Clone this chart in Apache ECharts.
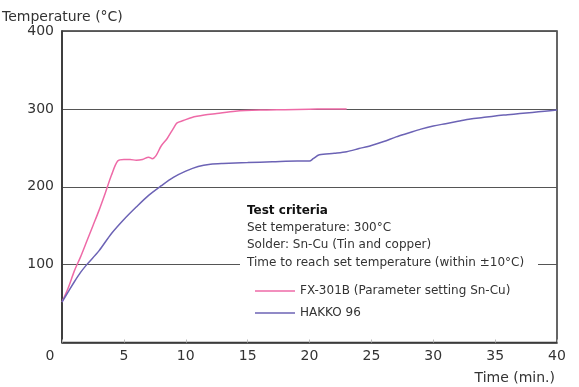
<!DOCTYPE html>
<html>
<head>
<meta charset="utf-8">
<script src="https://cdn.jsdelivr.net/npm/echarts@6/dist/echarts.min.js"></script>
<style>html,body{margin:0;padding:0;background:#fff}#c{width:579px;height:387px}</style>
</head>
<body>
<div id="c"></div>
<script>
// Data
const fxTime = [0, 0.5, 1, 1.5, 2, 2.5, 3, 3.5, 4, 4.5, 5, 5.5, 6, 6.5, 7, 7.3, 7.6, 8, 8.5, 9, 9.3, 9.8, 10.5, 11.5, 12.5, 14, 16, 18, 20, 22, 23];
const fxTemp = [52, 70, 92, 110, 130, 150, 170, 192, 215, 233, 235, 235, 234, 235, 238, 236, 240, 252, 262, 275, 282, 285, 289, 292, 294, 297, 298.5, 299, 299.5, 300, 300];
const hkTime = [0, 0.5, 1, 1.5, 2, 3, 4, 5, 6, 7, 8, 9, 10, 11, 12, 13, 15, 17, 19, 20, 20.3, 20.8, 22, 23, 24, 25, 26, 27, 28, 29, 30, 31, 32, 33, 34, 35, 36, 37, 38, 39, 40];
const hkTemp = [52, 65, 78, 90, 100, 118, 140, 158, 174, 189, 201, 212, 220, 226, 229, 230, 231, 232, 233, 233, 236, 241, 243, 245, 249, 253, 258, 264, 269, 274, 278, 281, 284, 287, 289, 291, 292.5, 294, 295.5, 297, 298.5];
const seriesNames = ['FX-301B (Parameter setting Sn-Cu)', 'HAKKO 96'];
const criteriaLines = ['Test criteria', 'Set temperature: 300°C', 'Solder: Sn-Cu (Tin and copper)', 'Time to reach set temperature (within ±10°C)'];
const yTicks = [0, 100, 200, 300, 400];
const xTicks = [0, 5, 10, 15, 20, 25, 30, 35, 40];

const FONT = 'DejaVu Sans';
const chart = echarts.init(document.getElementById('c'), null, {renderer: 'canvas'});
const zip = (a, b) => a.map((v, i) => [v, b[i]]);

chart.setOption({
  animation: false,
  backgroundColor: '#fff',
  textStyle: {fontFamily: FONT},
  grid: {left: 62, right: 22, top: 31, bottom: 44.5, show: true, borderColor: '#333', borderWidth: 1.5, backgroundColor: 'transparent'},
  xAxis: {
    type: 'value', min: xTicks[0], max: xTicks[xTicks.length - 1], interval: 5,
    axisLine: {show: true, lineStyle: {color: '#333', width: 1.5}},
    axisTick: {show: true, inside: true, length: 3, lineStyle: {color: '#bbb'}},
    splitLine: {show: false},
    axisLabel: {
      color: '#333', fontSize: 14, fontFamily: FONT, margin: 7,
      formatter: v => v === 0 ? '{z|0}' : String(v),
      rich: {z: {fontSize: 14, fontFamily: FONT, color: '#333', padding: [0, 24, 0, 0]}}
    }
  },
  yAxis: {
    type: 'value', min: yTicks[0], max: yTicks[yTicks.length - 1], interval: 100,
    axisLine: {show: true, lineStyle: {color: '#333', width: 1.5}},
    axisTick: {show: false},
    splitLine: {show: true, lineStyle: {color: '#555', width: 1}},
    axisLabel: {color: '#333', fontSize: 14, fontFamily: FONT, margin: 8, formatter: v => v === 0 ? '' : String(v)}
  },
  legend: {
    orient: 'vertical', left: 250, top: 280, itemWidth: 40, itemHeight: 14, itemGap: 10,
    icon: 'path://M0,0H40V1.5H0Z', symbolKeepAspect: true,
    textStyle: {fontSize: 12, fontFamily: FONT, color: '#333'},
    data: seriesNames
  },
  series: [
    {name: seriesNames[0], type: 'line', symbol: 'none', smooth: 0.3, data: zip(fxTime, fxTemp), lineStyle: {color: '#ee6aa7', width: 1.5}, itemStyle: {color: '#ee6aa7'}, z: 3},
    {name: seriesNames[1], type: 'line', symbol: 'none', smooth: 0.3, data: zip(hkTime, hkTemp), lineStyle: {color: '#6c63b5', width: 1.5}, itemStyle: {color: '#6c63b5'}, z: 3}
  ],
  graphic: [
    {type: 'text', left: 2, top: 10, style: {text: 'Temperature (°C)', font: '14px "DejaVu Sans"', fill: '#333'}},
    {type: 'text', right: 24, top: 371, style: {text: 'Time (min.)', font: '14px "DejaVu Sans"', fill: '#333'}},
    {type: 'rect', left: 240, top: 256, shape: {width: 298, height: 16}, style: {fill: '#fff'}, z: 10},
    {type: 'text', left: 247, top: 205, style: {text: criteriaLines[0], font: 'bold 12px "DejaVu Sans"', fill: '#111'}, z: 11},
    {type: 'text', left: 247, top: 222, style: {text: criteriaLines[1], font: '12px "DejaVu Sans"', fill: '#333'}, z: 11},
    {type: 'text', left: 247, top: 239, style: {text: criteriaLines[2], font: '12px "DejaVu Sans"', fill: '#333'}, z: 11},
    {type: 'text', left: 247, top: 257, style: {text: criteriaLines[3], font: '12px "DejaVu Sans"', fill: '#333'}, z: 11}
  ]
});
</script>
</body>
</html>
